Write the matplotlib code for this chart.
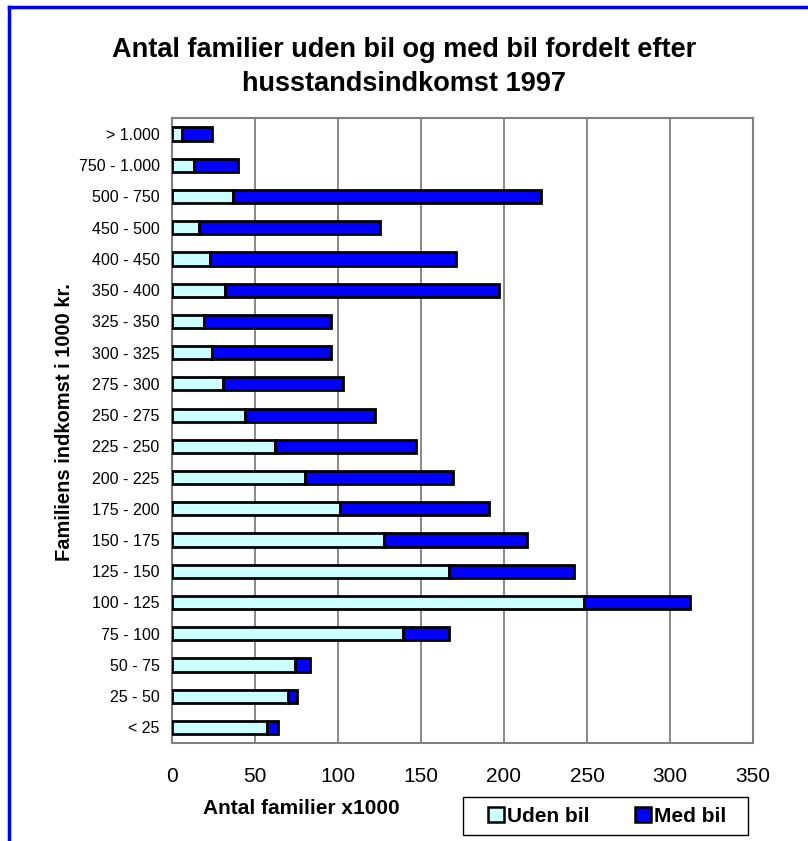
import numpy as np
import matplotlib
matplotlib.use("Agg")
import matplotlib.pyplot as plt
from matplotlib.patches import Patch, Rectangle
from matplotlib.lines import Line2D

plt.rcParams['font.family'] = ['Liberation Sans', 'DejaVu Sans']

# income groups, bottom to top
groups = ['< 25', '25 - 50', '50 - 75', '75 - 100', '100 - 125', '125 - 150',
          '150 - 175', '175 - 200', '200 - 225', '225 - 250', '250 - 275',
          '275 - 300', '300 - 325', '325 - 350', '350 - 400', '400 - 450',
          '450 - 500', '500 - 750', '750 - 1.000', '> 1.000']
# families (x1000)
uden_bil = [57, 70, 74, 139, 248, 167, 128, 101, 80, 62, 44, 31, 24, 19, 32, 23, 16, 37, 13, 6]
total = [64, 75, 83, 167, 312, 242, 214, 191, 169, 147, 122, 103, 96, 96, 197, 171, 125, 222, 40, 24]
med_bil = [t - u for t, u in zip(total, uden_bil)]

xticks = [0, 50, 100, 150, 200, 250, 300, 350]

fig = plt.figure(figsize=(8.08, 8.41), dpi=100)
ax = fig.add_axes([0.2129, 0.1165, 0.719, 0.7427])

y = np.arange(len(groups))
ax.barh(y, uden_bil, height=0.42, color='#CCFFFF', edgecolor='black', linewidth=2, zorder=3)
ax.barh(y, med_bil, left=uden_bil, height=0.42, color='#0000FF', edgecolor='black', linewidth=2, zorder=3)

ax.set_xlim(0, 350)
ax.set_ylim(-0.5, len(groups) - 0.5)
ax.set_xticks(xticks)
ax.set_yticks(y)
ax.set_yticklabels(groups, fontsize=11.5)
ax.tick_params(axis='x', length=0, pad=17, labelsize=15)
ax.tick_params(axis='y', length=0, pad=9)
ax.xaxis.grid(True, color='#808080', linewidth=1.3, zorder=0)
ax.set_axisbelow(True)
for s in ax.spines.values():
    s.set_color('#808080')
    s.set_linewidth(1.5)

ax.set_ylabel('Familiens indkomst i 1000 kr.', fontsize=14.5, fontweight='bold')
ax.yaxis.set_label_coords(-0.168, 0.514)
fig.text(0.373, 0.039, 'Antal familier x1000', fontsize=15, fontweight='bold',
         ha='center', va='center')

fig.text(0.5, 1 - 67 / 841, 'Antal familier uden bil og med bil fordelt efter\nhusstandsindkomst 1997',
         fontsize=19.5, fontweight='bold', ha='center', va='center', linespacing=1.38)

# legend box
fig.add_artist(Rectangle((463 / 808, 1 - 835 / 841), 285 / 808, 38 / 841,
                         transform=fig.transFigure, facecolor='white',
                         edgecolor='black', linewidth=1.0))
handles = [Patch(facecolor='#CCFFFF', edgecolor='black', linewidth=1.8, label='Uden bil'),
           Patch(facecolor='#0000FF', edgecolor='black', linewidth=1.8, label='Med bil')]
leg = fig.legend(handles=handles, loc='center', bbox_to_anchor=(607 / 808, 1 - 816 / 841), ncol=2,
                 frameon=False, prop={'weight': 'bold', 'size': 15},
                 handlelength=0.75, handleheight=0.75, handletextpad=0.15,
                 columnspacing=2.2, borderpad=0.3)

# blue frame on top and left
fig.add_artist(Line2D([9 / 808, 1], [1 - 7 / 841, 1 - 7 / 841], color='#0000FF', linewidth=2.5))
fig.add_artist(Line2D([9 / 808, 9 / 808], [0, 1 - 7 / 841], color='#0000FF', linewidth=2.5))

fig.savefig('out.png', dpi=100)
